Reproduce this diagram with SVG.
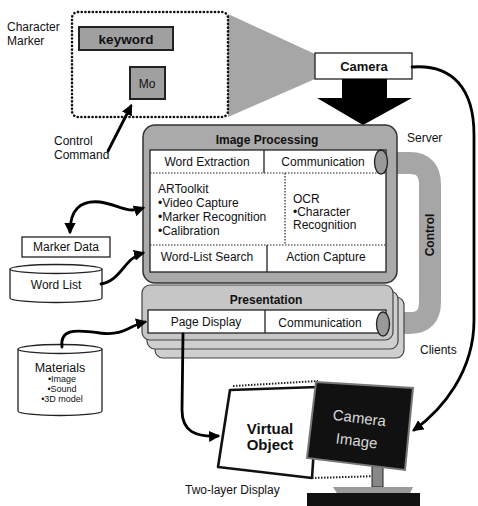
<svg xmlns="http://www.w3.org/2000/svg" width="478" height="506" viewBox="0 0 478 506">
<defs>
<style>
text{font-family:"Liberation Sans",Arial,sans-serif;fill:#111;}
.t12{font-size:12px;}
.b12{font-size:12px;font-weight:bold;}
.mid{text-anchor:middle;}
.box{fill:#fff;stroke:#222;stroke-width:1.3;}
.dot{fill:none;stroke:#222;stroke-width:1.2;stroke-dasharray:1.5 1.5;}
.conn{fill:none;stroke:#000;stroke-width:2.8;stroke-linecap:round;}
.gray{fill:#a9a9a9;}
</style>
<marker id="ah" viewBox="0 0 10 10" refX="8" refY="5" markerWidth="4" markerHeight="4" orient="auto-start-reverse" markerUnits="strokeWidth">
<path d="M0,0 L10,5 L0,10 z" fill="#000"/>
</marker>
</defs>
<rect width="478" height="506" fill="#fff"/>

<!-- Character marker -->
<g id="character-marker">
<polygon points="228,14 315,54 315,79 228,117" fill="#a6a6a6"/>
<rect x="72" y="12" width="156" height="105" rx="6" fill="#fff" stroke="#111" stroke-width="2.6" stroke-dasharray="0.1 3.6" stroke-linecap="round"/>
<text class="t12" x="7" y="31">Character</text>
<text class="t12" x="7" y="45">Marker</text>
<rect x="79" y="27" width="94" height="23" fill="#a0a0a0" stroke="#222" stroke-width="2"/>
<text x="126" y="44" class="mid" style="font-size:13.5px;font-weight:bold">keyword</text>
<rect x="130" y="67" width="35" height="32" fill="#a0a0a0" stroke="#222" stroke-width="2"/>
<text x="147" y="88" class="t12 mid">Mo</text>
</g>

<g id="control-command">
<text class="t12" x="54" y="145">Control</text>
<text class="t12" x="54" y="159">Command</text>
</g>

<!-- Camera -->
<g id="camera">
<rect x="315" y="53" width="97" height="26" class="box" stroke-width="2"/>
<text x="364" y="71" class="mid" style="font-size:13px;font-weight:bold">Camera</text>
<polygon points="342,79 387,79 387,98 412,98 363,125 317,98 342,98" fill="#000"/>
</g>

<!-- Control pipe -->
<g id="control">
<path d="M385 163 H410 Q430 163 430 185 V302 Q430 323 410 323 H385" fill="none" stroke="#a6a6a6" stroke-width="22"/>
<text transform="translate(434 235) rotate(-90)" class="b12 mid">Control</text>
</g>

<!-- Image Processing -->
<g id="image-processing">
<rect x="143" y="125" width="254" height="158" rx="12" fill="#aaaaaa" stroke="#333" stroke-width="1.5"/>
<text x="267" y="144" class="b12 mid">Image Processing</text>
<rect x="150" y="150" width="236" height="122" class="box"/>
<line x1="150" y1="173" x2="386" y2="173" class="dot"/>
<line x1="150" y1="245" x2="386" y2="245" class="dot"/>
<line x1="264" y1="150" x2="264" y2="173" stroke="#222" stroke-width="1.3"/>
<line x1="285" y1="173" x2="285" y2="245" class="dot"/>
<line x1="267" y1="245" x2="267" y2="272" stroke="#222" stroke-width="1.3"/>
<text x="207" y="166" class="t12 mid">Word Extraction</text>
<text x="323" y="166" class="t12 mid">Communication</text>
<ellipse cx="381" cy="162" rx="6.5" ry="12" fill="#999" stroke="#222" stroke-width="1.3"/>
<text class="t12" x="158" y="193">ARToolkit</text>
<text class="t12" x="158" y="207">•Video Capture</text>
<text class="t12" x="158" y="221">•Marker Recognition</text>
<text class="t12" x="158" y="235">•Calibration</text>
<text class="t12" x="293" y="203">OCR</text>
<text class="t12" x="293" y="216">•Character</text>
<text class="t12" x="293" y="229">Recognition</text>
<text x="207" y="261" class="t12 mid">Word-List Search</text>
<text x="326" y="261" class="t12 mid">Action Capture</text>
</g>
<text class="t12" x="407" y="142">Server</text>

<!-- Presentation -->
<g id="presentation">
<rect x="155" y="297" width="249" height="61" rx="8" fill="#cfcfcf" stroke="#444" stroke-width="1.2"/>
<rect x="147" y="291" width="251" height="58" rx="8" fill="#cfcfcf" stroke="#444" stroke-width="1.2"/>
<rect x="142" y="285" width="251" height="55" rx="8" fill="#c6c6c6" stroke="#444" stroke-width="1.2"/>
<text x="266" y="304" class="b12 mid">Presentation</text>
<rect x="148" y="310" width="238" height="23" class="box"/>
<line x1="265" y1="310" x2="265" y2="333" stroke="#222" stroke-width="1.3"/>
<text x="206" y="326" class="t12 mid">Page Display</text>
<text x="320" y="327" class="t12 mid">Communication</text>
<ellipse cx="383" cy="324" rx="6.5" ry="12" fill="#999" stroke="#222" stroke-width="1.3"/>
</g>
<text class="t12" x="420" y="354">Clients</text>

<!-- Marker Data -->
<g id="marker-data">
<rect x="22" y="237" width="88" height="20" class="box"/>
<text x="66" y="251" class="t12 mid">Marker Data</text>
</g>

<!-- Word List -->
<g id="word-list">
<path d="M10 269 V298 A46 4.5 0 0 0 102 298 V269" class="box"/>
<ellipse cx="56" cy="269" rx="46" ry="4.5" class="box"/>
<text x="56" y="289" class="t12 mid">Word List</text>
</g>

<!-- Materials -->
<g id="materials">
<path d="M18 349 V411 A42 4.5 0 0 0 102 411 V349" class="box"/>
<ellipse cx="60" cy="349" rx="42" ry="4.5" class="box"/>
<text x="60" y="372" class="mid" style="font-size:12.5px">Materials</text>
<text x="62" y="382" class="mid" style="font-size:9px">•Image</text>
<text x="62" y="392" class="mid" style="font-size:9px">•Sound</text>
<text x="62" y="402" class="mid" style="font-size:9px">•3D model</text>
</g>

<!-- Two-layer display -->
<g id="two-layer-display">
<line x1="233" y1="386" x2="318" y2="381" stroke="#222" stroke-width="2" stroke-dasharray="1.5 1.5"/>
<polygon points="230,390 318,387 312,478 218,467" fill="#fff" stroke="#111" stroke-width="2.6" stroke-linejoin="round"/>
<line x1="312" y1="478" x2="380" y2="476" stroke="#222" stroke-width="2" stroke-dasharray="1.5 1.5"/>
<text x="270" y="434" class="mid" style="font-size:15px;font-weight:bold">Virtual</text>
<text x="270" y="450" class="mid" style="font-size:15px;font-weight:bold">Object</text>
<rect x="372" y="466" width="11" height="21" fill="#888" stroke="#222" stroke-width="1"/>
<polygon points="333,487 413,487 408,498 340,498" fill="#9a9a9a"/>
<rect x="307" y="493" width="113" height="13" fill="#111"/>
<polygon points="316,382 413,388 405,470 307,458" fill="#111" stroke="#777" stroke-width="2"/>
<g transform="rotate(7 358 430)">
<text x="358" y="423" class="mid" style="font-size:15px;fill:#d8d8d8">Camera</text>
<text x="358" y="446" class="mid" style="font-size:15px;fill:#d8d8d8">Image</text>
</g>
<text class="t12" x="185" y="494">Two-layer Display</text>
</g>

<!-- Connectors -->
<g id="connectors">
<path d="M108 151 L131 106" class="conn" stroke-width="2.4" marker-end="url(#ah)"/>
<path d="M412 67 C452 64 474 88 474 135 L474 320 C474 372 442 410 414 430" class="conn" stroke-width="2.4" marker-end="url(#ah)"/>
<path d="M70 232 C70 210 80 200 100 202 C120 205 126 214 143 208" class="conn" marker-start="url(#ah)" marker-end="url(#ah)"/>
<path d="M101 284 C122 280 124 258 143 253" class="conn" marker-end="url(#ah)"/>
<path d="M62 347 C60 330 72 329 100 333 C125 336 128 326 145 322" class="conn" marker-end="url(#ah)"/>
<path d="M183 334 L182 410 C182 432 196 437 218 436" class="conn" marker-end="url(#ah)"/>
</g>
</svg>
